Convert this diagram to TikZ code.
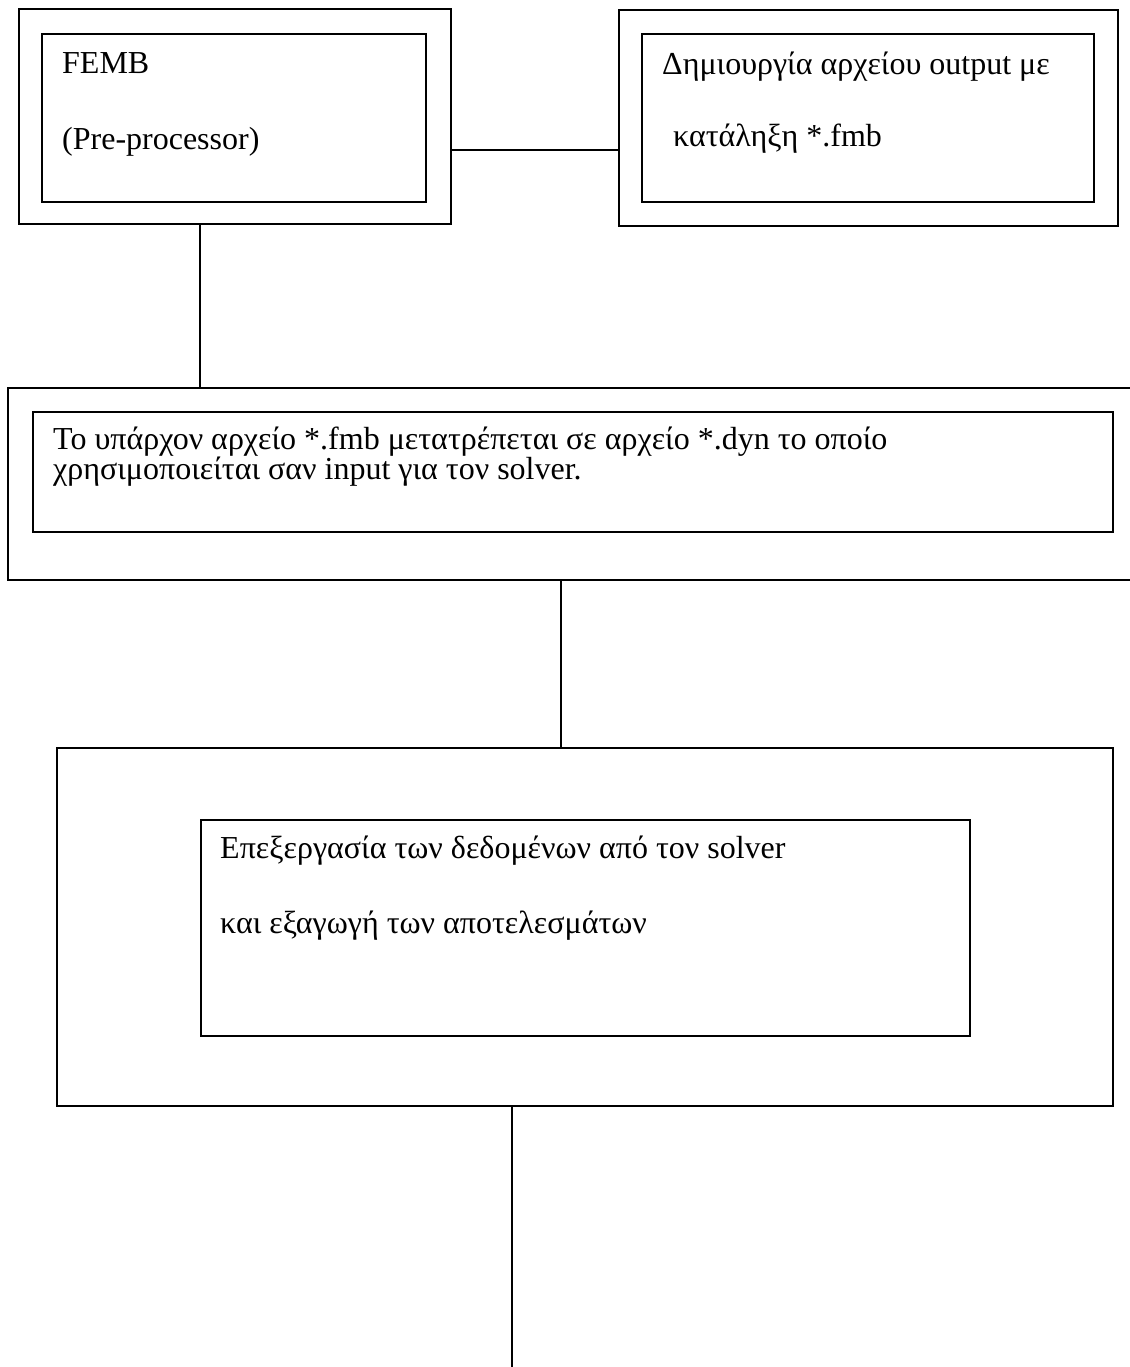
\documentclass[tikz,border=0pt]{standalone}
\usepackage{fontspec}
\setmainfont{Liberation Serif}
\usepackage{tikz}
\usetikzlibrary{positioning,calc}

\begin{document}
\begin{tikzpicture}[
    x=1pt, y=-1pt,
    frame/.style={draw,line width=2pt,inner sep=0pt,anchor=north west},
    txt/.style={anchor=base west,inner sep=0pt,font=\fontsize{32}{38}\selectfont},
    link/.style={line width=2pt}
  ]
  \useasboundingbox (0,0) rectangle (1129,1367);
  % pre-processor
  \node[frame,minimum width=432pt,minimum height=215pt] (fembout) at (18,8) {};
  \node[frame,minimum width=384pt,minimum height=168pt] (fembin) at (41,33) {};
  \node[txt] (femb) at (62,74) {FEMB};
  \node[txt] (pre) at (62,150) {(Pre-processor)};
  % output file
  \node[frame,minimum width=499pt,minimum height=216pt] (outout) at (618,9) {};
  \node[frame,minimum width=452pt,minimum height=168pt] (outin) at (641,33) {};
  \node[txt] (out1) at (662,75) {Δημιουργία αρχείου output με};
  \node[txt] (out2) at (673,147) {κατάληξη *.fmb};
  % conversion
  \node[frame,minimum width=1140pt,minimum height=192pt] (convout) at (7,387) {};
  \node[frame,minimum width=1080pt,minimum height=120pt] (convin) at (32,411) {};
  \node[txt,align=left,font={\fontsize{32}{30}\selectfont\lineskiplimit=-50pt}] (conv) at (53,479)
    {Το υπάρχον αρχείο *.fmb μετατρέπεται σε αρχείο *.dyn το οποίο\\
     χρησιμοποιείται σαν input για τον solver.};
  % solver
  \node[frame,minimum width=1056pt,minimum height=358pt] (solvout) at (56,747) {};
  \node[frame,minimum width=769pt,minimum height=216pt] (solvin) at (200,819) {};
  \node[txt] (solv1) at (220,858) {Επεξεργασία των δεδομένων από τον solver};
  \node[txt] (solv2) at (220,933) {και εξαγωγή των αποτελεσμάτων};
  \coordinate (tail) at (512,1370);

  \coordinate (a1) at ([yshift=-34pt]fembout.east);
  \coordinate (a2) at ([xshift=182pt]fembout.south west);
  \coordinate (a3) at ([xshift=554pt]convout.south west);
  \coordinate (a4) at ([xshift=456pt]solvout.south west);
  \draw[link] (a1) -- (a1 -| outout.west);
  \draw[link] (a2) -- (a2 |- convout.north);
  \draw[link] (a3) -- (a3 |- solvout.north);
  \draw[link] (a4) -- (tail);
\end{tikzpicture}
\end{document}
